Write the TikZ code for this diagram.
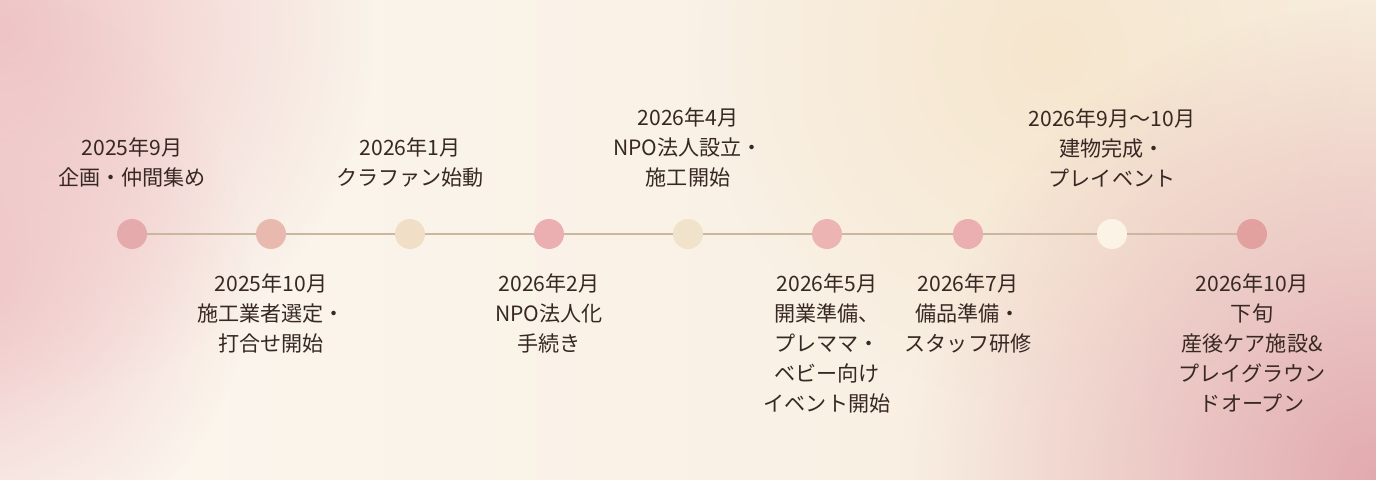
\documentclass[tikz,border=0pt]{standalone}
\usepackage{fontspec}
\setmainfont{Noto Sans CJK JP}
\usetikzlibrary{positioning,fadings}

\definecolor{ink}{RGB}{56,40,36}
\definecolor{linecol}{RGB}{203,182,160}
\definecolor{bgmid}{RGB}{251,246,239}
\definecolor{bgright}{RGB}{248,237,221}
\definecolor{bgpink}{RGB}{239,196,198}
\definecolor{bgrose}{RGB}{226,170,176}
\definecolor{bgwarm}{RGB}{246,230,206}
\definecolor{dpinkA}{RGB}{229,170,172}
\definecolor{dpeach}{RGB}{231,185,175}
\definecolor{dbeige}{RGB}{241,222,198}
\definecolor{dpinkB}{RGB}{235,175,178}
\definecolor{dbeigeB}{RGB}{241,226,204}
\definecolor{dpinkC}{RGB}{236,180,178}
\definecolor{dcream}{RGB}{251,244,230}
\definecolor{drose}{RGB}{226,160,158}

\tikzfading[name=glow, inner color=transparent!0, outer color=transparent!100]

\begin{document}
\begin{tikzpicture}[
    dot/.style={circle, minimum size=0.6cm, inner sep=0pt},
    lbl/.style={align=center, inner sep=0pt, text=ink, font=\fontsize{12}{17}\selectfont},
    tline/.style={draw=linecol, line width=1.4pt}
  ]
  % Background
  \useasboundingbox (0,0) rectangle (27.52,9.58);
  \shade[left color=bgmid, right color=bgright] (0,0) rectangle (27.52,9.58);
  \begin{scope}
    \clip (0,0) rectangle (27.52,9.58);
    \fill[bgwarm, path fading=glow] (21,8.5) circle (7);
    \fill[bgpink, path fading=glow] (0,9) circle (7.5);
    \fill[bgpink, path fading=glow] (-1,4) circle (6);
    \fill[bgrose, path fading=glow] (27.52,0) circle (9.5);
  \end{scope}

  % Milestones
  \node[dot, fill=dpinkA] (m2509) at (2.64,4.9) {};
  \node[dot, fill=dpeach] (m2510) at (5.42,4.9) {};
  \node[dot, fill=dbeige] (m2601) at (8.2,4.9) {};
  \node[dot, fill=dpinkB] (m2602) at (10.98,4.9) {};
  \node[dot, fill=dbeigeB] (m2604) at (13.76,4.9) {};
  \node[dot, fill=dpinkC] (m2605) at (16.54,4.9) {};
  \node[dot, fill=dpinkB] (m2607) at (19.36,4.9) {};
  \node[dot, fill=dcream] (m2609) at (22.24,4.9) {};
  \node[dot, fill=drose] (m2610) at (25.04,4.9) {};
  \draw[tline] (m2509) -- (m2510) -- (m2601) -- (m2602) -- (m2604)
    -- (m2605) -- (m2607) -- (m2609) -- (m2610);

  % Labels above
  \node[lbl, above=0.62cm of m2509] (l2509) {2025年9月\\企画・仲間集め};
  \node[lbl, above=0.62cm of m2601] (l2601) {2026年1月\\クラファン始動};
  \node[lbl, above=0.62cm of m2604] (l2604) {2026年4月\\NPO法人設立・\\施工開始};
  \node[lbl, above=0.62cm of m2609] (l2609) {2026年9月～10月\\建物完成・\\プレイベント};

  % Labels below
  \node[lbl, below=0.48cm of m2510] (l2510) {2025年10月\\施工業者選定・\\打合せ開始};
  \node[lbl, below=0.48cm of m2602] (l2602) {2026年2月\\NPO法人化\\手続き};
  \node[lbl, below=0.48cm of m2605] (l2605) {2026年5月\\開業準備、\\プレママ・\\ベビー向け\\イベント開始};
  \node[lbl, below=0.48cm of m2607] (l2607) {2026年7月\\備品準備・\\スタッフ研修};
  \node[lbl, below=0.48cm of m2610] (l2610) {2026年10月\\下旬\\産後ケア施設\&\\プレイグラウン\\ドオープン};
\end{tikzpicture}
\end{document}
